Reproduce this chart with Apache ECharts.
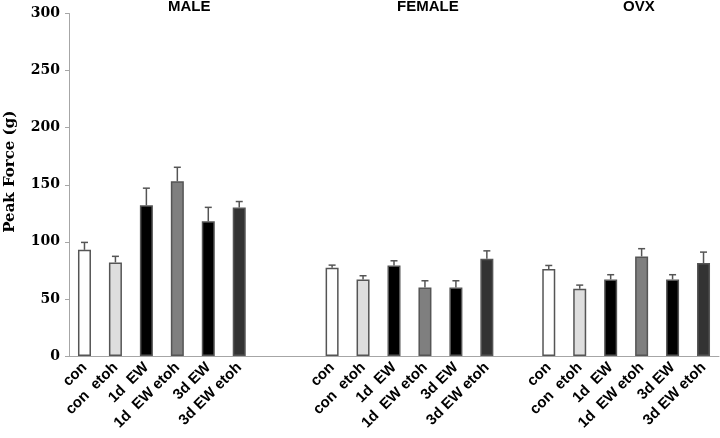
<!DOCTYPE html>
<html>
<head>
<meta charset="utf-8">
<script src="https://cdn.jsdelivr.net/npm/echarts@6/dist/echarts.min.js"></script>
<style>
html,body{margin:0;padding:0;background:#fff;}
#chart{width:720px;height:438px;}
</style>
</head>
<body>
<div id="chart"></div>
<script>
// ---- data ----
var categories = ['con', 'con  etoh', '1d  EW', '1d  EW etoh', '3d EW', '3d EW etoh'];
var groups = ['MALE', 'FEMALE', 'OVX'];
var maleMeans = [93, 82, 132, 153, 118, 130];
var maleErr = [6.5, 5.3, 15, 12.3, 12.2, 5.3];
var femaleMeans = [77.3, 67.1, 79.3, 60.1, 60.1, 85.1];
var femaleErr = [2.3, 3.2, 4.1, 5.8, 5.8, 7];
var ovxMeans = [76.1, 58.9, 67.1, 87.2, 67.1, 81.4];
var ovxErr = [3.2, 3.2, 4.1, 6.8, 4.1, 9.6];
var gapsAfterGroup = [2, 1, 0];
var yTicks = [0, 50, 100, 150, 200, 250, 300];

// ---- styles ----
var barColors = ['#ffffff', '#dedede', '#000000', '#7f7f7f', '#000000', '#333333'];
var groupTitleLeft = [168, 397, 623];

var allMeans = [maleMeans, femaleMeans, ovxMeans];
var allErr = [maleErr, femaleErr, ovxErr];

var axisCats = [];
var barData = [];
var errData = [];
for (var g = 0; g < groups.length; g++) {
  for (var i = 0; i < categories.length; i++) {
    var idx = axisCats.length;
    axisCats.push(categories[i]);
    barData.push({ value: allMeans[g][i], itemStyle: { color: barColors[i] } });
    errData.push([idx, allMeans[g][i], allMeans[g][i] + allErr[g][i]]);
  }
  for (var k = 0; k < gapsAfterGroup[g]; k++) {
    axisCats.push('');
    barData.push('-');
  }
}

var chart = echarts.init(document.getElementById('chart'), null, { renderer: 'canvas' });
var titles = groups.map(function (name, j) {
  return {
    text: name,
    left: groupTitleLeft[j],
    top: -1,
    padding: 0,
    textStyle: { fontFamily: 'Liberation Sans', fontWeight: 'bold', fontSize: 15, color: '#000' }
  };
});

chart.setOption({
  animation: false,
  title: titles,
  grid: { left: 69, right: 1, top: 13.5, bottom: 82, containLabel: false, outerBoundsMode: 'none' },
  xAxis: {
    type: 'category',
    data: axisCats,
    axisLine: { lineStyle: { color: '#a6a6a6', width: 1 } },
    axisTick: { show: false },
    axisLabel: {
      interval: 0,
      rotate: 45,
      margin: 9,
      hideOverlap: false,
      fontFamily: 'Liberation Sans',
      fontWeight: 'bold',
      fontSize: 15,
      color: '#000'
    }
  },
  yAxis: {
    type: 'value',
    min: yTicks[0],
    max: yTicks[yTicks.length - 1],
    interval: 50,
    name: 'Peak Force (g)',
    nameLocation: 'middle',
    nameRotate: 90,
    nameGap: 51,
    nameTextStyle: { fontFamily: 'DejaVu Serif', fontWeight: 'bold', fontSize: 15, color: '#000', padding: [0, 0, 0, 26] },
    axisLine: { show: true, lineStyle: { color: '#a6a6a6', width: 1 } },
    axisTick: { show: true, length: 4, lineStyle: { color: '#a6a6a6' } },
    splitLine: { show: false },
    axisLabel: {
      margin: 9,
      fontFamily: 'DejaVu Serif',
      fontWeight: 'bold',
      fontSize: 14,
      color: '#000'
    }
  },
  series: [
    {
      type: 'bar',
      data: barData,
      barWidth: 13,
      itemStyle: { borderColor: '#555', borderWidth: 1.5 }
    },
    {
      type: 'custom',
      data: errData,
      z: 1,
      renderItem: function (params, api) {
        var x = api.value(0);
        var lo = api.coord([x, api.value(1)]);
        var hi = api.coord([x, api.value(2)]);
        var half = 3.5;
        var st = { stroke: '#555', lineWidth: 1.5 };
        return {
          type: 'group',
          children: [
            { type: 'line', shape: { x1: lo[0], y1: lo[1], x2: hi[0], y2: hi[1] }, style: st },
            { type: 'line', shape: { x1: hi[0] - half, y1: hi[1], x2: hi[0] + half, y2: hi[1] }, style: st }
          ]
        };
      }
    }
  ]
});
</script>
</body>
</html>
